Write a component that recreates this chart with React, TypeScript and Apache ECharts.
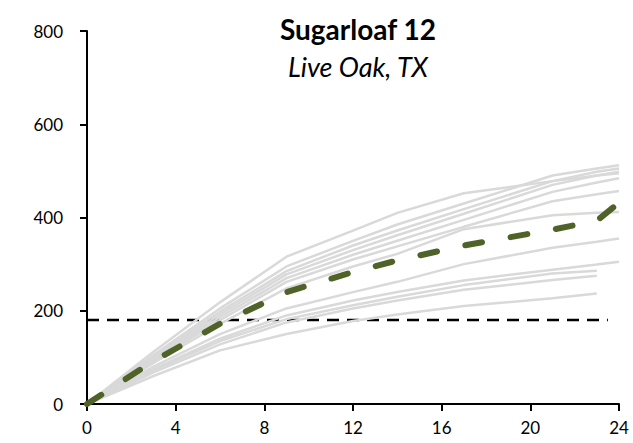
import React, { useEffect, useRef } from "react";
import * as echarts from "echarts";

const titleText = "Sugarloaf 12";
const subtitleText = "Live Oak, TX";

const hours = [0, 3, 6, 9, 12, 14, 17, 21, 23, 24];

const lineA = [0, 112, 218, 316, 372, 410, 452, 478, 490, 495];
const lineB = [0, 105, 205, 295, 350, 385, 430, 490, 505, 512];
const lineC = [0, 102, 198, 285, 340, 372, 418, 478, 498, 505];
const lineD = [0, 98, 192, 278, 330, 362, 408, 470, 490, 498];
const lineE = [0, 95, 186, 270, 320, 350, 395, 455, 475, 484];
const lineF = [0, 92, 180, 262, 310, 338, 380, 435, 450, 457];
const lineG = [0, 88, 172, 248, 295, 322, 375, 405, 410, 412];
const lineH = [0, 80, 150, 205, 240, 262, 300, 335, 348, 355];
const lineI = [0, 75, 140, 190, 222, 240, 265, 288, 299, 305];
const lineJ = [0, 72, 135, 182, 212, 230, 255, 280, 286, null];
const lineK = [0, 68, 128, 175, 205, 222, 245, 266, 275, null];
const lineL = [0, 60, 115, 150, 178, 192, 210, 227, 237, null];

const grayLines = [lineA, lineB, lineC, lineD, lineE, lineF, lineG, lineH, lineI, lineJ, lineK, lineL];

const meanValues = [0, 92, 172, 240, 283, 308, 340, 374, 393, 432];

const thresholdValue = 180;
const thresholdSpan = [0, 23.5];

const xTicks = { min: 0, max: 24, interval: 4 };
const yTicks = { min: 0, max: 800, interval: 200 };

const FONT = "Lato, 'Open Sans', sans-serif";

function toPairs(vals: (number | null)[]) {
  const out: [number, number][] = [];
  vals.forEach((v, i) => {
    if (v !== null && v !== undefined) out.push([hours[i], v]);
  });
  return out;
}

export default function App() {
  const ref = useRef<HTMLDivElement>(null);
  useEffect(() => {
    document.body.style.margin = "0";
    const chart = echarts.init(ref.current!, null, { renderer: "svg" });
    const series: any[] = [];
    series.push({
      type: "line",
      data: thresholdSpan.map((x) => [x, thresholdValue]),
      symbol: "none",
      lineStyle: { color: "#000000", width: 2.5, type: [12, 8] },
      z: 1,
    });
    grayLines.forEach((l) => {
      series.push({
        type: "line",
        data: toPairs(l),
        symbol: "none",
        lineStyle: { color: "#d9d9d9", width: 2.5 },
        z: 2,
      });
    });
    series.push({
      type: "line",
      data: toPairs(meanValues),
      symbol: "none",
      lineStyle: { color: "#4f6228", width: 6, type: [17, 29], cap: "round" },
      z: 3,
    });
    chart.setOption({
      animation: false,
      title: [
        {
          text: titleText,
          left: 353,
          top: 10,
          textAlign: "center",
          textStyle: { fontFamily: FONT, fontWeight: "bold", fontSize: 28, color: "#000" },
        },
        {
          text: subtitleText,
          left: 353,
          top: 48,
          textAlign: "center",
          textStyle: { fontFamily: FONT, fontStyle: "italic", fontWeight: "normal", fontSize: 27, color: "#000" },
        },
      ],
      grid: { left: 87, right: 14, top: 31, bottom: 39, containLabel: false },
      xAxis: {
        type: "value",
        min: xTicks.min,
        max: xTicks.max,
        interval: xTicks.interval,
        axisLine: { show: true, lineStyle: { color: "#000", width: 2 } },
        axisTick: { show: true, inside: false, length: 7, lineStyle: { color: "#000", width: 2 } },
        axisLabel: { color: "#000", fontFamily: FONT, fontSize: 17, margin: 15 },
        splitLine: { show: false },
      },
      yAxis: {
        type: "value",
        min: yTicks.min,
        max: yTicks.max,
        interval: yTicks.interval,
        axisLine: { show: true, lineStyle: { color: "#000", width: 2 } },
        axisTick: { show: true, inside: false, length: 7, lineStyle: { color: "#000", width: 2 } },
        axisLabel: { color: "#000", fontFamily: FONT, fontSize: 17, margin: 24 },
        splitLine: { show: false },
      },
      series,
    });
    return () => chart.dispose();
  }, []);
  return <div ref={ref} style={{ position: "absolute", left: 0, top: 0, width: 633, height: 443 }} />;
}
